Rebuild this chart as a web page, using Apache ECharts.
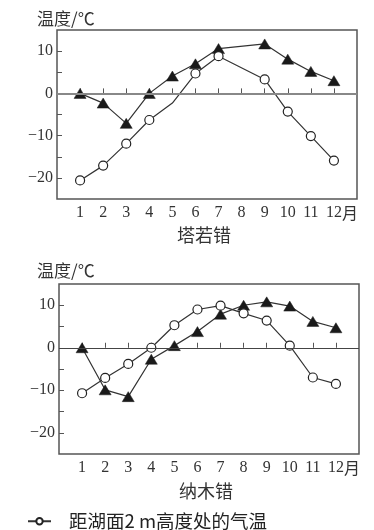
<!DOCTYPE html>
<html><head><meta charset="utf-8">
<script src="https://cdn.jsdelivr.net/npm/echarts@6/dist/echarts.min.js"></script>
<style>html,body{margin:0;padding:0;background:#fff}#c{width:374px;height:530px}</style>
</head><body><div id="c"></div>
<script>
var months = [1,2,3,4,5,6,7,8,9,10,11,12];
var yTickValues = [-20,-15,-10,-5,0,5,10];
var yLabelValues = [-20,-10,0,10];
var yAxisTitle = '温度/℃';
var xUnit = '月';
var lakeNames = ['塔若错','纳木错'];
var circleName = '距湖面2 m高度处的气温';
var triangleName = '湖面温度';
// 塔若错
var tarTriangle = [0, -2.3, -7.1, 0, 4.1, 7.0, 10.6, null, 11.7, 8.1, 5.2, 3.0];
var tarCircle = [-20.6, -17.1, -11.9, -6.3, -2.3, 4.7, 8.8, null, 3.3, -4.3, -10.1, -15.9];
var tarCircleNoMarker = [5];
// 纳木错
var namTriangle = [0, -9.9, -11.5, -2.7, 0.5, 3.8, 7.9, 10.0, 10.8, 9.8, 6.2, 4.7];
var namCircle = [-10.7, -7.1, -3.8, 0, 5.3, 9.0, 9.9, 8.1, 6.4, 0.5, -7.0, -8.5];

function pts(vals, noMarker) {
  var out = [];
  months.forEach(function (m, i) {
    if (vals[i] === null) return;
    var it = { value: [m, vals[i]] };
    if (noMarker && noMarker.indexOf(m) >= 0) it.symbol = 'none';
    out.push(it);
  });
  return out;
}
var serif = "'Liberation Serif','Noto Sans CJK SC',serif";
var cjk = "'Noto Sans CJK SC','Liberation Serif',serif";
var grids = [
  { left: 57, top: 30, width: 300, height: 169 },
  { left: 59, top: 284, width: 300, height: 170 }
];
function xAxis(gi) {
  return {
    type: 'value', gridIndex: gi, min: 0, max: 13, interval: 1,
    axisLine: { show: false }, splitLine: { show: false },
    axisTick: { show: true, inside: true, length: 5, lineStyle: { color: '#555', width: 1 }, customValues: months },
    axisLabel: {
      customValues: months, margin: 6, color: '#333', fontFamily: serif, fontSize: 16
    }
  };
}
function yAxis(gi) {
  return {
    type: 'value', gridIndex: gi, min: -25, max: 15, interval: 5,
    axisLine: { show: false }, splitLine: { show: false },
    axisTick: { show: true, inside: true, length: 5, lineStyle: { color: '#555', width: 1 }, customValues: yTickValues },
    axisLabel: {
      customValues: yLabelValues, margin: 4, color: '#333', fontFamily: serif, fontSize: 16,
      formatter: function (v) { return String(v).replace('-', '\u2212'); }
    }
  };
}
var lineStyle = { color: '#333', width: 1.2 };
function triSeries(gi, vals, zeroColor, zeroWidth) {
  return {
    name: triangleName, type: 'line', xAxisIndex: gi, yAxisIndex: gi,
    data: pts(vals), connectNulls: true, symbol: 'triangle', symbolSize: [12, 10],
    lineStyle: lineStyle, itemStyle: { color: '#1a1a1a', borderColor: '#1a1a1a', borderWidth: 0.5 },
    z: 3,
    markLine: { silent: true, symbol: 'none', label: { show: false }, animation: false,
      lineStyle: { color: zeroColor, width: zeroWidth, type: 'solid' }, data: [{ yAxis: 0 }] }
  };
}
function cirSeries(gi, vals, noMarker) {
  return {
    name: circleName, type: 'line', xAxisIndex: gi, yAxisIndex: gi,
    data: pts(vals, noMarker), connectNulls: true, symbol: 'circle', symbolSize: 9,
    lineStyle: lineStyle, itemStyle: { color: '#fff', borderColor: '#222', borderWidth: 1.2 },
    z: 4
  };
}
var chart = echarts.init(document.getElementById('c'));
var unitGraphics = grids.map(function (g) {
  var x12 = g.left + g.width * 12 / 13 + 8;
  return { type: 'text', x: x12, y: g.top + g.height + 14,
    style: { text: xUnit, font: '16px ' + cjk, fill: '#333', align: 'left', verticalAlign: 'middle' } };
});
chart.setOption({
  animation: false,
  backgroundColor: '#fff',
  grid: grids.map(function (g) { return Object.assign({ show: true, borderColor: '#555', borderWidth: 1.5, backgroundColor: 'transparent' }, g); }),
  xAxis: [xAxis(0), xAxis(1)],
  yAxis: [yAxis(0), yAxis(1)],
  series: [
    triSeries(0, tarTriangle, '#888', 2),
    cirSeries(0, tarCircle, tarCircleNoMarker),
    triSeries(1, namTriangle, '#444', 1.2),
    cirSeries(1, namCircle, null)
  ],
  legend: {
    data: [circleName], left: 22, top: 507, itemWidth: 23, itemHeight: 8, itemGap: 10,
    textStyle: { fontFamily: cjk, fontSize: 18.5, color: '#222', padding: [0, 0, 0, 13] }
  },
  graphic: [
    { type: 'text', left: 37, top: 10, style: { text: yAxisTitle, font: '17px ' + cjk, fill: '#333' } },
    { type: 'text', left: 37, top: 262, style: { text: yAxisTitle, font: '17px ' + cjk, fill: '#333' } },
    { type: 'text', x: 204, y: 235, style: { text: lakeNames[0], font: '18px ' + cjk, fill: '#333', align: 'center', verticalAlign: 'middle' } },
    { type: 'text', x: 206, y: 491, style: { text: lakeNames[1], font: '18px ' + cjk, fill: '#333', align: 'center', verticalAlign: 'middle' } }
  ].concat(unitGraphics)
});
</script></body></html>
